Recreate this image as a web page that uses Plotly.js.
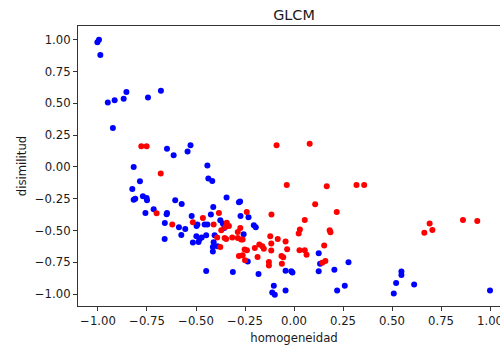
<!DOCTYPE html>
<html>
<head>
<meta charset="utf-8">
<script src="https://cdn.plot.ly/plotly-3.0.1.min.js"></script>
<style>
html,body{margin:0;padding:0;overflow:hidden;width:500px;height:347px;background:#fff;}
#chart{width:520px;height:347px;}
</style>
</head>
<body>
<div id="chart"></div>
<script>
const blueX = [-1.003,-0.995,-0.988,-0.95,-0.915,-0.869,-0.855,-0.745,-0.679,-0.924,-0.648,-0.614,-0.543,-0.528,-0.818,-0.442,-0.786,-0.825,-0.818,-0.81,-0.771,-0.752,-0.75,-0.758,-0.716,-0.659,-0.648,-0.65,-0.66,-0.606,-0.573,-0.587,-0.575,-0.555,-0.437,-0.417,-0.522,-0.497,-0.516,-0.487,-0.498,-0.482,-0.471,-0.493,-0.456,-0.442,-0.448,-0.412,-0.424,-0.405,-0.41,-0.414,-0.414,-0.39,-0.376,-0.363,-0.356,-0.344,-0.281,-0.275,-0.273,-0.257,-0.232,-0.205,-0.195,-0.236,-0.312,-0.448,-0.181,-0.103,-0.111,-0.098,-0.043,-0.043,-0.014,-0.008,0.126,0.133,0.126,0.278,0.206,0.22,0.259,0.509,0.521,0.548,0.548,0.613,1.0];
const blueY = [0.98,1.0,0.88,0.507,0.525,0.535,0.588,0.546,0.598,0.305,0.142,0.092,0.121,0.171,0.0,0.011,-0.113,-0.173,-0.258,-0.25,-0.231,-0.244,-0.262,-0.362,-0.333,-0.441,-0.362,-0.372,-0.567,-0.262,-0.291,-0.475,-0.535,-0.488,-0.092,-0.11,-0.386,-0.465,-0.595,-0.59,-0.546,-0.569,-0.556,-0.454,-0.454,-0.454,-0.538,-0.315,-0.375,-0.538,-0.593,-0.63,-0.666,-0.624,-0.42,-0.446,-0.48,-0.241,-0.278,-0.272,-0.386,-0.53,-0.396,-0.459,-0.475,-0.745,-0.827,-0.819,-0.842,-0.934,-0.987,-1.005,-0.973,-0.817,-0.821,-0.83,-0.68,-0.761,-0.821,-0.75,-0.808,-0.973,-0.934,-0.995,-0.913,-0.823,-0.85,-0.924,-0.973];
const redX = [-0.779,-0.752,-0.089,0.08,-0.68,-0.701,-0.621,-0.516,-0.465,-0.41,-0.383,-0.343,-0.332,-0.35,-0.371,-0.392,-0.354,-0.346,-0.315,-0.287,-0.274,-0.287,-0.27,-0.262,-0.376,-0.241,-0.252,-0.24,-0.262,-0.281,-0.25,-0.2,-0.177,-0.162,-0.154,-0.186,-0.128,-0.128,-0.115,-0.121,-0.116,-0.116,-0.083,-0.043,-0.035,-0.064,-0.055,-0.062,-0.037,0.167,0.319,0.358,0.108,0.218,0.055,0.03,0.024,0.182,0.186,0.028,0.055,0.064,0.154,0.144,0.16,0.665,0.692,0.706,0.862,0.935];
const redY = [0.163,0.163,0.171,0.181,-0.052,-0.365,-0.454,-0.435,-0.402,-0.454,-0.362,-0.44,-0.465,-0.472,-0.498,-0.556,-0.559,-0.567,-0.556,-0.512,-0.48,-0.559,-0.572,-0.572,-0.63,-0.354,-0.65,-0.656,-0.695,-0.70,-0.735,-0.638,-0.611,-0.624,-0.643,-0.709,-0.748,-0.776,-0.375,-0.546,-0.603,-0.658,-0.567,-0.587,-0.648,-0.70,-0.711,-0.761,-0.142,-0.152,-0.142,-0.142,-0.294,-0.354,-0.417,-0.493,-0.524,-0.498,-0.514,-0.656,-0.656,-0.69,-0.619,-0.753,-0.74,-0.517,-0.446,-0.496,-0.417,-0.425];
const xTickVals = [-1,-0.75,-0.5,-0.25,0,0.25,0.5,0.75,1];
const xTickText = ["\u22121.00","\u22120.75","\u22120.50","\u22120.25","0.00","0.25","0.50","0.75","1.00"];
const yTickVals = [-1,-0.75,-0.5,-0.25,0,0.25,0.5,0.75,1];
const yTickText = ["\u22121.00","\u22120.75","\u22120.50","\u22120.25","0.00","0.25","0.50","0.75","1.00"];

const font = {family: "DejaVu Sans", size: 11.7, color: "#1a1a1a"};
const traces = [
  {x: blueX, y: blueY, mode: "markers", type: "scatter", marker: {color: "#0000ff", size: 6}},
  {x: redX, y: redY, mode: "markers", type: "scatter", marker: {color: "#ff0000", size: 6}}
];
const axisCommon = {
  showgrid: false, zeroline: false, showline: true, linecolor: "#333", linewidth: 1,
  mirror: true, ticks: "outside", ticklen: 4, tickwidth: 1, tickcolor: "#333",
  tickfont: font, tickmode: "array"
};
const layout = {
  width: 520, height: 347,
  margin: {l: 78, r: 10, t: 26, b: 41},
  paper_bgcolor: "#fff", plot_bgcolor: "#fff",
  showlegend: false,
  font: font,
  title: {text: "GLCM", font: {family: "DejaVu Sans", size: 14.4, color: "#1a1a1a"}, x: 0.5, xref: "paper", y: 0.958, yref: "container", yanchor: "middle"},
  xaxis: Object.assign({}, axisCommon, {range: [-1.102, 1.102], tickvals: xTickVals, ticktext: xTickText,
    title: {text: "homogeneidad", font: font, standoff: 6}}),
  yaxis: Object.assign({}, axisCommon, {range: [-1.094, 1.108], tickvals: yTickVals, ticktext: yTickText,
    title: {text: "disimilitud", font: font, standoff: 5}})
};
Plotly.newPlot("chart", traces, layout, {staticPlot: true, displayModeBar: false});
</script>
</body>
</html>
